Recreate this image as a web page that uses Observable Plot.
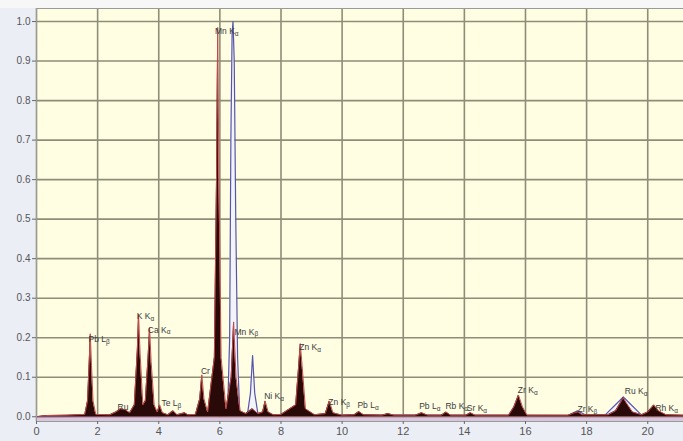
<!DOCTYPE html>
<html>
<head>
<meta charset="utf-8">
<script src="https://cdn.jsdelivr.net/npm/d3@7"></script>
<script src="https://cdn.jsdelivr.net/npm/@observablehq/plot@0.6"></script>
<style>
  html, body { margin: 0; padding: 0; background: #ffffff; }
  #chart svg { display: block; }
</style>
</head>
<body>
<div id="chart"></div>
<script>
// Measured XRF spectrum (energy in keV, normalised intensity)
const sampleEnergy = [
  0.0, 0.3, 1.0, 1.58, 1.67, 1.72, 1.76, 1.80, 1.85, 1.94,
  2.4, 2.6, 2.75, 2.9, 3.05, 3.2, 3.30, 3.34, 3.39, 3.48,
  3.56, 3.65, 3.70, 3.75, 3.85, 3.95, 4.03, 4.12, 4.3, 4.47,
  4.6, 4.85, 4.95, 5.2, 5.34, 5.41, 5.48, 5.6, 5.82, 5.89,
  5.93, 5.97, 6.04, 6.2, 6.37, 6.45, 6.53, 6.66, 6.85, 7.06,
  7.25, 7.4, 7.48, 7.58, 7.75, 8.0, 8.48, 8.58, 8.63, 8.69,
  8.80, 9.1, 9.45, 9.58, 9.7, 10.0, 10.4, 10.55, 10.7, 11.3,
  11.5, 11.7, 12.4, 12.6, 12.8, 13.25, 13.4, 13.55, 14.05, 14.2,
  14.35, 15.45, 15.62, 15.77, 15.9, 16.05, 17.4, 17.6, 17.72, 17.85,
  18.7, 18.95, 19.1, 19.2, 19.3, 19.5, 19.8, 20.0, 20.2, 20.35,
  20.6, 21.17
];
const sampleCounts = [
  0.0, 0.003, 0.004, 0.006, 0.04, 0.13, 0.21, 0.13, 0.04, 0.006,
  0.005, 0.012, 0.02, 0.018, 0.01, 0.03, 0.17, 0.26, 0.16, 0.03,
  0.04, 0.15, 0.225, 0.14, 0.03, 0.012, 0.03, 0.01, 0.005, 0.015,
  0.005, 0.01, 0.005, 0.006, 0.045, 0.106, 0.045, 0.012, 0.15, 0.6,
  0.985, 0.6, 0.15, 0.02, 0.1, 0.24, 0.1, 0.015, 0.008, 0.02,
  0.008, 0.012, 0.04, 0.012, 0.005, 0.006, 0.03, 0.13, 0.185, 0.13,
  0.02, 0.005, 0.008, 0.04, 0.01, 0.004, 0.005, 0.013, 0.005, 0.004,
  0.008, 0.004, 0.004, 0.01, 0.004, 0.004, 0.012, 0.004, 0.004, 0.01,
  0.004, 0.004, 0.025, 0.055, 0.025, 0.004, 0.004, 0.01, 0.012, 0.005,
  0.005, 0.015, 0.035, 0.048, 0.035, 0.012, 0.005, 0.012, 0.03, 0.015,
  0.005, 0.004
];

// Reference spectrum overlaid as an outline
const refEnergy = [
  0.0, 6.25, 6.32, 6.36, 6.40, 6.43, 6.47, 6.52, 6.58, 6.65,
  6.9, 7.0, 7.07, 7.14, 7.25, 17.4, 17.7, 18.0, 18.6, 19.2,
  19.8, 21.17
];
const refCounts = [
  0.0, 0.003, 0.2, 0.7, 0.97, 1.0, 0.9, 0.5, 0.15, 0.01,
  0.005, 0.06, 0.155, 0.06, 0.005, 0.003, 0.015, 0.003, 0.004, 0.05,
  0.004, 0.002
];

// Emission line labels ("_" marks the subscript)
const lineNames = [
  "Pb L_β", "Ru", "K K_α", "Ca K_α", "Te L_β", "Cr", "Mn K_α", "Mn K_β",
  "Ni K_α", "Zn K_α", "Zn K_β", "Pb L_α", "Pb L_α", "Rb K_α", "Sr K_α",
  "Zr K_α", "Zr K_β", "Ru K_α", "Rh K_α"
];
const lineEnergy = [
  1.70, 2.65, 3.28, 3.64, 4.09, 5.38, 5.84, 6.48,
  7.45, 8.60, 9.55, 10.50, 12.52, 13.38, 14.08,
  15.75, 17.70, 19.25, 20.25
];
const lineLevel = [
  0.195, 0.025, 0.255, 0.22, 0.035, 0.115, 0.975, 0.215,
  0.052, 0.175, 0.037, 0.03, 0.027, 0.027, 0.022,
  0.068, 0.02, 0.065, 0.022
];

const energyTicks = [0, 2, 4, 6, 8, 10, 12, 14, 16, 18, 20];
const countTicks = [0, 0.1, 0.2, 0.3, 0.4, 0.5, 0.6, 0.7, 0.8, 0.9, 1.0];

const sample = sampleEnergy.map((e, i) => ({e, v: sampleCounts[i]}));
const reference = refEnergy.map((e, i) => ({e, v: refCounts[i]}));
const lines = lineNames.map((name, i) => ({name, e: lineEnergy[i], v: lineLevel[i]}));

const gridColor = "#8e8e78";

const chart = Plot.plot({
  width: 683,
  height: 441,
  marginLeft: 36,
  marginRight: 0,
  marginTop: 8,
  marginBottom: 20,
  style: {
    fontFamily: "Liberation Sans, Arial, sans-serif",
    background: "linear-gradient(to bottom, #f7f7f7 0px, #f7f7f7 8px, #eceef5 8px)",
    overflow: "visible"
  },
  x: {domain: [0, 21.17], axis: null, label: null},
  y: {domain: [-0.012, 1.033], axis: null, label: null},
  marks: [
    Plot.frame({fill: "#fffee3"}),
    Plot.gridX(energyTicks, {stroke: gridColor, strokeOpacity: 1, strokeWidth: 1.6}),
    Plot.gridY(countTicks, {stroke: gridColor, strokeOpacity: 1, strokeWidth: 1.6}),
    Plot.ruleY([0], {stroke: "#d7c6dc", strokeWidth: 4, dy: 2.5}),
    Plot.areaY(reference, {x: "e", y: "v", fill: "#f3f3fb"}),
    Plot.line(reference, {x: "e", y: "v", stroke: "#5656a8", strokeWidth: 1.2}),
    Plot.areaY(sample, {x: "e", y: "v", fill: "#2a0909"}),
    Plot.line(sample, {x: "e", y: "v", stroke: "#c44a48", strokeWidth: 1}),
    Plot.ruleY([0], {stroke: "#8a4a5a", strokeWidth: 1.2}),
    Plot.text(lines, {
      x: "e", y: "v", text: "name",
      textAnchor: "start", lineAnchor: "middle",
      fontSize: 8.5, fill: "#3a3a3a"
    }),
    Plot.frame({stroke: "#9a9a9a", strokeWidth: 1}),
    Plot.axisX(energyTicks, {
      anchor: "bottom", tickSize: 3, tickPadding: 3, label: null,
      fontSize: 11, fill: "#555", stroke: "#666"
    }),
    Plot.axisY(countTicks, {
      anchor: "left", tickSize: 4, tickPadding: 2, label: null,
      tickFormat: d3.format(".1f"),
      fontSize: 10, fill: "#555", stroke: "#666"
    })
  ]
});

// Render "_x" in line labels as a subscript
d3.select(chart).selectAll("text").each(function() {
  const node = d3.select(this);
  const t = node.text();
  if (!t.includes("_")) return;
  const [main, sub] = t.split("_");
  node.text(null);
  node.append("tspan").text(main);
  node.append("tspan").attr("dy", "0.3em").attr("font-size", 6.5).text(sub);
});

document.getElementById("chart").append(chart);
</script>
</body>
</html>
